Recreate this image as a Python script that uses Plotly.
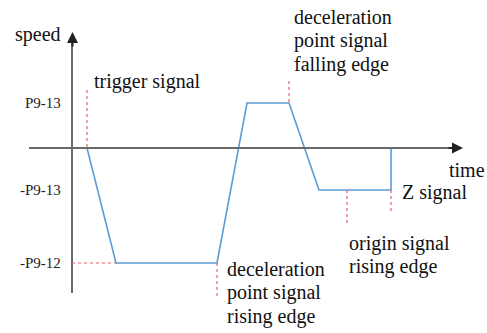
import plotly.graph_objects as go

# Homing speed profile (time in arbitrary units, speed in arbitrary units)
time_pts = [15, 44, 145, 175, 217, 247, 319, 319]
speed_pts = [0, -115, -115, 45, 45, -42, -42, 0]

# Speed levels shown on the vertical axis
level_values = [45, -42, -115]
level_labels = ["P9-13", "-P9-13", "-P9-12"]

# Signal markers: (time, speed from, speed to)
marker_lines = [
    (15, 58, 0),        # trigger signal
    (145, -115, -150),  # deceleration point signal rising edge
    (217, 67, 45),      # deceleration point signal falling edge
    (275, -42, -78),    # origin signal rising edge
    (319, -42, -64),    # Z signal
]

AXIS_COLOR = "#6b6b6b"
LINE_COLOR = "#5b9bd5"
MARK_COLOR = "#e8606e"
FONT = "Liberation Serif, serif"

fig = go.Figure()

fig.add_trace(go.Scatter(
    x=time_pts, y=speed_pts, mode="lines",
    line=dict(color=LINE_COLOR, width=1.6),
    hoverinfo="skip", showlegend=False,
))

shapes = []
# Axes
shapes.append(dict(type="line", x0=0, x1=0, y0=-145, y1=110, xref="x", yref="y",
                   line=dict(color=AXIS_COLOR, width=2)))
shapes.append(dict(type="line", x0=-43, x1=386, y0=0, y1=0, xref="x", yref="y",
                   line=dict(color=AXIS_COLOR, width=2)))
# Signal markers
for t, y0, y1 in marker_lines:
    shapes.append(dict(type="line", x0=t, x1=t, y0=y0, y1=y1, xref="x", yref="y",
                       line=dict(color=MARK_COLOR, width=1.2, dash="dot")))
# Guide from the axis to the -P9-12 plateau
shapes.append(dict(type="line", x0=0, x1=44, y0=-115, y1=-115, xref="x", yref="y",
                   line=dict(color=MARK_COLOR, width=1.2, dash="dot")))

annotations = []
# Arrow heads of the axes
annotations.append(dict(x=0.5, y=116, ax=0.5, ay=100, xref="x", yref="y", axref="x", ayref="y",
                        showarrow=True, arrowhead=2, arrowsize=1.1, arrowwidth=2,
                        arrowcolor="#222222", text=""))
annotations.append(dict(x=391, y=0, ax=375, ay=0, xref="x", yref="y", axref="x", ayref="y",
                        showarrow=True, arrowhead=2, arrowsize=1.1, arrowwidth=2,
                        arrowcolor="#222222", text=""))

# Level tick labels
for v, lab in zip(level_values, level_labels):
    annotations.append(dict(x=-9, y=v, xref="x", yref="y", text=lab, showarrow=False,
                            xanchor="right", yanchor="middle",
                            font=dict(family=FONT, size=15, color="#222222")))

def note(x, y, lines, step=23.5):
    # one annotation per text line, keeping a tight line pitch
    for i, line in enumerate(lines):
        annotations.append(dict(x=x, y=y - i * step, xref="x", yref="y", text=line,
                                showarrow=False, xanchor="left", yanchor="middle",
                                font=dict(family=FONT, size=20, color="#111111")))

note(-59, 114, ["speed"])
note(20, 67, ["trigger signal"])
note(220, 131, ["deceleration", "point signal", "falling edge"])
note(375, -22, ["time"])
note(328, -44, ["Z signal"])
note(275, -95, ["origin signal", "rising edge"])
note(153, -121, ["deceleration", "point signal", "rising edge"])

fig.update_layout(
    width=487, height=333,
    margin=dict(l=0, r=0, t=0, b=0),
    paper_bgcolor="white", plot_bgcolor="white",
    xaxis=dict(range=[-72, 415], visible=False, fixedrange=True),
    yaxis=dict(range=[-185, 148], visible=False, fixedrange=True),
    shapes=shapes, annotations=annotations,
)

fig.write_html("out.html")
